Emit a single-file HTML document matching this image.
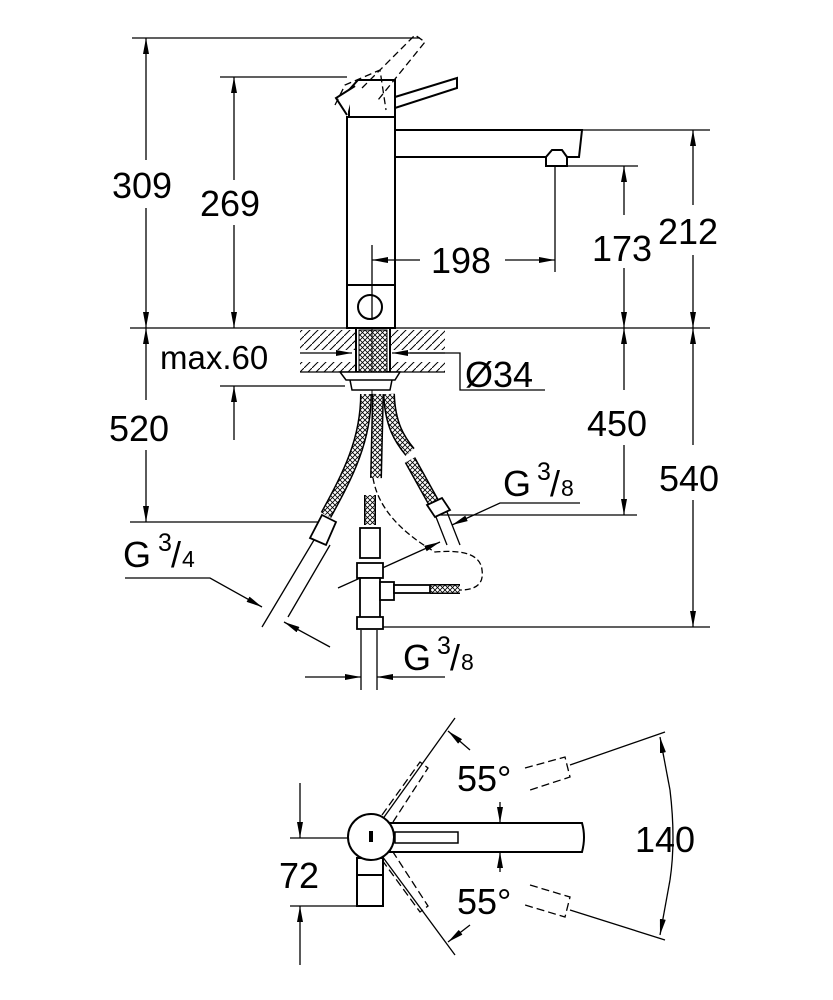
<!DOCTYPE html>
<html><head><meta charset="utf-8"><style>
html,body{margin:0;padding:0;background:#fff}
svg{display:block}
text{font-family:"Liberation Sans",Arial,sans-serif;fill:#000}
</style></head><body>
<svg width="833" height="1000" viewBox="0 0 833 1000" xmlns="http://www.w3.org/2000/svg">
<defs>
<marker id="a" viewBox="0 0 16 6" refX="16" refY="3" markerWidth="16" markerHeight="6" markerUnits="userSpaceOnUse" orient="auto"><path d="M0,0L16,3L0,6z" fill="#000"/></marker>
<pattern id="h" width="8" height="8" patternUnits="userSpaceOnUse"><path d="M0,8L8,0" stroke="#000" stroke-width="1"/></pattern>
<pattern id="x" width="5" height="5" patternUnits="userSpaceOnUse"><rect width="5" height="5" fill="#fff"/><path d="M0,0L5,5M5,0L0,5" stroke="#000" stroke-width="0.8"/></pattern>
</defs>
<!-- faucet front view -->
<g stroke="#000" fill="#fff" stroke-width="2">
<path d="M395,130 L582,130 L579,157 L395,157"/>
<path d="M395,128 Q385,143 395,160" fill="none" stroke-width="1.2"/>
<rect x="347" y="117" width="48" height="211"/>
<line x1="347" y1="285" x2="395" y2="285"/>
<circle cx="370" cy="307" r="12"/>
<path d="M546,157 L552,150 L562,150 L567,157 L567,166 L546,166 z"/>
<path d="M395,97 L457,78 L457,88 L395,108 z"/>
<path d="M349,117 L349,90 L358,80 L395,80 L395,117 z"/>
<path d="M355,86 L336,98 L347,115"/>
</g>
<g stroke="#000" fill="none" stroke-width="1.3" stroke-dasharray="7,4">
<path d="M362,88 L415,35 L425,42 L378,100"/>
<path d="M335,105 L345,85 L380,70 L386,110"/>
</g>
<g stroke="#000" fill="none" stroke-width="1.3">
<line x1="132" y1="38" x2="420" y2="38"/>
<line x1="220" y1="77" x2="347" y2="77"/>
<line x1="582" y1="130" x2="710" y2="130"/>
<line x1="567" y1="166" x2="638" y2="166"/>
<line x1="130" y1="328" x2="710" y2="328"/>
<line x1="130" y1="522" x2="330" y2="522"/>
<line x1="440" y1="515" x2="637" y2="515"/>
<line x1="370" y1="627" x2="710" y2="627"/>
<line x1="555" y1="166" x2="555" y2="272"/>
<line x1="372" y1="245" x2="372" y2="320"/>
<line x1="146" y1="160" x2="146" y2="38" marker-end="url(#a)"/>
<line x1="146" y1="208" x2="146" y2="328" marker-end="url(#a)"/>
<line x1="234" y1="180" x2="234" y2="77" marker-end="url(#a)"/>
<line x1="234" y1="225" x2="234" y2="328" marker-end="url(#a)"/>
<line x1="420" y1="260" x2="372" y2="260" marker-end="url(#a)"/>
<line x1="505" y1="260" x2="555" y2="260" marker-end="url(#a)"/>
<line x1="624" y1="215" x2="624" y2="166" marker-end="url(#a)"/>
<line x1="624" y1="268" x2="624" y2="328" marker-end="url(#a)"/>
<line x1="693" y1="205" x2="693" y2="130" marker-end="url(#a)"/>
<line x1="693" y1="255" x2="693" y2="328" marker-end="url(#a)"/>
<line x1="146" y1="400" x2="146" y2="328" marker-end="url(#a)"/>
<line x1="146" y1="450" x2="146" y2="522" marker-end="url(#a)"/>
<line x1="234" y1="440" x2="234" y2="386" marker-end="url(#a)"/>
<line x1="220" y1="386" x2="345" y2="386"/>
<line x1="300" y1="353" x2="352" y2="353" marker-end="url(#a)"/>
<line x1="445" y1="353" x2="392" y2="353" marker-end="url(#a)"/>
<polyline points="410,353 460,353 460,390 545,390"/>
<line x1="624" y1="390" x2="624" y2="328" marker-end="url(#a)"/>
<line x1="624" y1="445" x2="624" y2="515" marker-end="url(#a)"/>
<line x1="693" y1="445" x2="693" y2="328" marker-end="url(#a)"/>
<line x1="693" y1="500" x2="693" y2="627" marker-end="url(#a)"/>
<polyline points="580,503 500,503 452,525" marker-end="url(#a)"/>
<line x1="338" y1="588" x2="440" y2="542" marker-end="url(#a)"/>
<polyline points="125,578 210,578 262,607" marker-end="url(#a)"/>
<line x1="330" y1="647" x2="284" y2="622" marker-end="url(#a)"/>
<line x1="305" y1="677" x2="361" y2="677" marker-end="url(#a)"/>
<line x1="445" y1="677" x2="377" y2="677" marker-end="url(#a)"/>
<line x1="361" y1="630" x2="361" y2="690"/>
<line x1="377" y1="630" x2="377" y2="690"/>
</g>
<!-- counter -->
<rect x="300" y="330" width="145" height="20" fill="url(#h)" stroke="none"/>
<rect x="300" y="362" width="145" height="10" fill="url(#h)" stroke="none"/>
<line x1="300" y1="372" x2="445" y2="372" stroke="#000" stroke-width="1.3"/>
<rect x="356" y="328" width="34" height="44" fill="#fff" stroke="#000" stroke-width="2"/>
<rect x="359" y="330" width="28" height="42" fill="url(#x)" stroke="#000"/>
<line x1="372" y1="328" x2="372" y2="395" stroke="#000" stroke-width="1"/>
<!-- hoses -->
<g fill="none">
<path d="M366,394 C366,440 348,475 326,515" stroke="#000" stroke-width="12"/>
<path d="M366,394 C366,440 348,475 326,515" stroke="url(#x)" stroke-width="9"/>
<path d="M378,394 L376,478" stroke="#000" stroke-width="12"/>
<path d="M378,394 L376,478" stroke="url(#x)" stroke-width="9"/>
<path d="M389,394 C390,425 400,440 410,452" stroke="#000" stroke-width="12"/>
<path d="M389,394 C390,425 400,440 410,452" stroke="url(#x)" stroke-width="9"/>
<path d="M410,460 L435,505" stroke="#000" stroke-width="12"/>
<path d="M410,460 L435,505" stroke="url(#x)" stroke-width="9"/>
<path d="M370,495 L370,525" stroke="#000" stroke-width="12"/>
<path d="M370,495 L370,525" stroke="url(#x)" stroke-width="9"/>
<path d="M430,589 L460,589" stroke="#000" stroke-width="10"/>
<path d="M430,589 L460,589" stroke="url(#x)" stroke-width="7"/>
</g>
<path d="M340,372 L400,372 L395,380 L346,380 z M350,380 L392,380 L390,390 L352,390 z" fill="#fff" stroke="#000" stroke-width="1.5"/>
<g stroke="#000" stroke-width="1.8" fill="#fff">
<path d="M322,515 L336,522 L326,545 L310,538 z"/>
<path d="M427,505 L442,498 L450,510 L435,517 z"/>
<rect x="360" y="528" width="20" height="30"/>
<rect x="357" y="563" width="26" height="15"/>
<rect x="360" y="578" width="20" height="40"/>
<rect x="357" y="617" width="26" height="12"/>
<rect x="380" y="582" width="14" height="18"/>
<rect x="394" y="585" width="36" height="8"/>
</g>
<g stroke="#000" stroke-width="1.3" fill="none">
<line x1="314" y1="540" x2="262" y2="627"/>
<line x1="330" y1="545" x2="288" y2="617"/>
<line x1="436" y1="517" x2="447" y2="545"/>
<line x1="447" y1="512" x2="460" y2="545"/>
<path d="M373,478 Q380,520 435,552 Q480,548 482,570 Q485,590 460,590" stroke-dasharray="6,3"/>
</g>
<!-- top view -->
<g stroke="#000" stroke-width="1.3" fill="none">
<line x1="290" y1="838" x2="500" y2="838"/>
<line x1="290" y1="906" x2="383" y2="906"/>
<line x1="300" y1="783" x2="300" y2="838" marker-end="url(#a)"/>
<line x1="300" y1="965" x2="300" y2="906" marker-end="url(#a)"/>
<line x1="382" y1="820" x2="455" y2="718"/>
<line x1="382" y1="856" x2="455" y2="955"/>
<line x1="470" y1="750" x2="448" y2="731" marker-end="url(#a)"/>
<line x1="470" y1="925" x2="448" y2="942" marker-end="url(#a)"/>
<line x1="500" y1="802" x2="500" y2="823" marker-end="url(#a)"/>
<line x1="500" y1="872" x2="500" y2="852" marker-end="url(#a)"/>
<line x1="570" y1="765" x2="665" y2="732"/>
<line x1="570" y1="910" x2="665" y2="940"/>
<path d="M670,790 Q676,840 670,880" />
<line x1="670" y1="790" x2="660" y2="737" marker-end="url(#a)"/>
<line x1="670" y1="880" x2="660" y2="935" marker-end="url(#a)"/>
</g>
<g stroke="#000" stroke-width="1.3" fill="none" stroke-dasharray="8,4">
<path d="M382,815 L420,762 L428,768 L393,822"/>
<path d="M382,860 L420,912 L428,906 L393,852"/>
<path d="M525,768 L565,757 L570,777 L530,790"/>
<path d="M530,885 L570,897 L565,917 L525,905"/>
</g>
<g stroke="#000" stroke-width="2" fill="#fff">
<rect x="357" y="858" width="26" height="48"/>
<line x1="357" y1="875" x2="383" y2="875"/>
<path d="M390,823 L582,823 Q586,837 582,852 L390,852 z"/>
<rect x="395" y="832" width="63" height="11" stroke-width="1.5"/>
<circle cx="371" cy="837" r="23"/>
</g>
<rect x="369" y="831" width="4" height="11" fill="#000"/>
<!-- labels -->
<g font-size="36">
<text x="112" y="198">309</text>
<text x="200" y="216">269</text>
<text x="431" y="273">198</text>
<text x="592" y="261">173</text>
<text x="658" y="244">212</text>
<text x="160" y="369" font-size="33">max.60</text>
<text x="465" y="387">Ø34</text>
<text x="109" y="441">520</text>
<text x="587" y="436">450</text>
<text x="659" y="491">540</text>
<text x="503" y="496">G</text><text x="537" y="480" font-size="25">3</text><text x="550" y="496">/</text><text x="561" y="496" font-size="23">8</text>
<text x="123" y="567">G</text><text x="158" y="551" font-size="25">3</text><text x="171" y="567">/</text><text x="182" y="567" font-size="23">4</text>
<text x="403" y="670">G</text><text x="437" y="654" font-size="25">3</text><text x="450" y="670">/</text><text x="461" y="670" font-size="23">8</text>
<text x="457" y="791">55°</text>
<text x="457" y="914">55°</text>
<text x="635" y="852">140</text>
<text x="279" y="888">72</text>
</g>
</svg>
</body></html>
